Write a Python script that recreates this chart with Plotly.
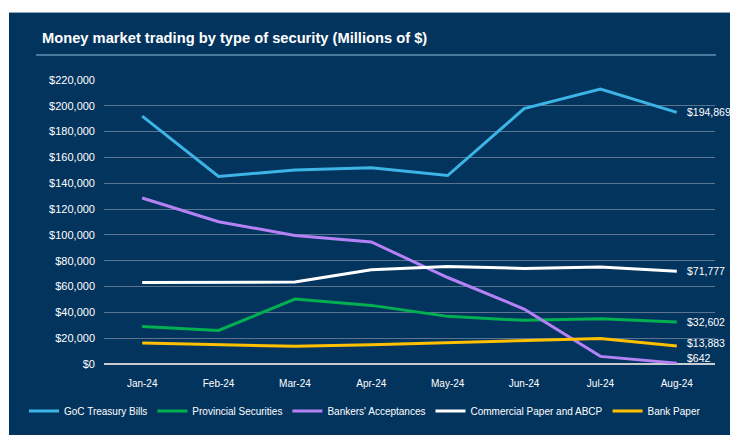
import plotly.graph_objects as go

months = ["Jan-24", "Feb-24", "Mar-24", "Apr-24", "May-24", "Jun-24", "Jul-24", "Aug-24"]
goc_tbills = [192000, 145300, 150300, 152000, 146000, 197800, 213000, 194869]
provincial = [29100, 26000, 50300, 45400, 36900, 33800, 35100, 32602]
bankers_acc = [128600, 110200, 99600, 94500, 67000, 42600, 5900, 642]
commercial = [63200, 63300, 63500, 73000, 75600, 74000, 75100, 71777]
bank_paper = [16300, 15000, 13700, 15000, 16700, 18000, 19800, 13883]
y_ticks = list(range(0, 220001, 20000))

series = [
    ("GoC Treasury Bills", goc_tbills, "#3CB4E5", 0),
    ("Provincial Securities", provincial, "#00B050", 0),
    ("Bankers' Acceptances", bankers_acc, "#B482F5", 5),
    ("Commercial Paper and ABCP", commercial, "#FFFFFF", 0),
    ("Bank Paper", bank_paper, "#FFC000", 3),
]

NAVY = "#03345E"
W, H = 730, 435
L, R, T, B = 104, 15, 80, 71
PW, PH = W - L - R, H - T - B


def fx(px):
    return (px - L) / PW


def fy(py):
    return (H - B - py) / PH


fig = go.Figure()
for name, vals, color, _ in series:
    fig.add_trace(go.Scatter(
        x=months, y=vals, name=name, mode="lines",
        line=dict(color=color, width=3),
    ))

annotations = []
for name, vals, color, ysh in series:
    annotations.append(dict(
        x=months[-1], y=vals[-1], xref="x", yref="y",
        text="${:,}".format(vals[-1]), showarrow=False,
        xanchor="left", yanchor="middle", xshift=8, yshift=ysh,
        font=dict(family="Liberation Sans, Arial", size=10.5, color="white"),
    ))
annotations.append(dict(
    x=fx(40), y=fy(38), xref="paper", yref="paper",
    text="<b>Money market trading by type of security (Millions of $)</b>",
    showarrow=False, xanchor="left", yanchor="middle",
    font=dict(family="Liberation Sans, Arial", size=14.7, color="white"),
))

shapes = [
    dict(type="rect", xref="paper", yref="paper", x0=fx(-2), x1=fx(9), y0=fy(H + 2), y1=fy(-2),
         fillcolor="white", line=dict(width=0), layer="above"),
    dict(type="rect", xref="paper", yref="paper", x0=fx(-2), x1=fx(W + 2), y0=fy(12), y1=fy(-2),
         fillcolor="white", line=dict(width=0), layer="above"),
    dict(type="line", xref="paper", yref="paper", x0=fx(9), x1=fx(W + 2), y0=fy(12.5), y1=fy(12.5),
         line=dict(color="#8FA8C0", width=1), layer="above"),
    dict(type="line", xref="paper", yref="paper", x0=fx(36), x1=fx(716), y0=fy(55), y1=fy(55),
         line=dict(color="#5E93B5", width=1.5), layer="above"),
]

fig.update_layout(
    width=W, height=H, autosize=False,
    margin=dict(l=L, r=R, t=T, b=B, pad=0, autoexpand=False),
    paper_bgcolor=NAVY, plot_bgcolor=NAVY,
    font=dict(family="Liberation Sans, Arial", color="white"),
    showlegend=True,
    legend=dict(
        orientation="h", x=fx(24), y=fy(411), xanchor="left", yanchor="middle",
        font=dict(size=10, color="white"), bgcolor="rgba(0,0,0,0)",
        traceorder="normal",
    ),
    annotations=annotations,
    shapes=shapes,
    xaxis=dict(
        type="category", range=[-0.5, 7.5], showgrid=False, zeroline=False,
        showline=False, ticks="", tickfont=dict(size=10, color="white"),
        ticklabelstandoff=12, automargin=False,
    ),
    yaxis=dict(
        range=[0, 220000], tickvals=y_ticks, tickformat="$,.0f",
        showgrid=True, gridcolor="#5B7490", gridwidth=1,
        zeroline=True, zerolinecolor="#C8CDD3", zerolinewidth=1.5,
        showline=False, ticks="", tickfont=dict(size=11, color="white"),
        ticklabelstandoff=8, automargin=False,
    ),
)

fig.write_html("out.html")
